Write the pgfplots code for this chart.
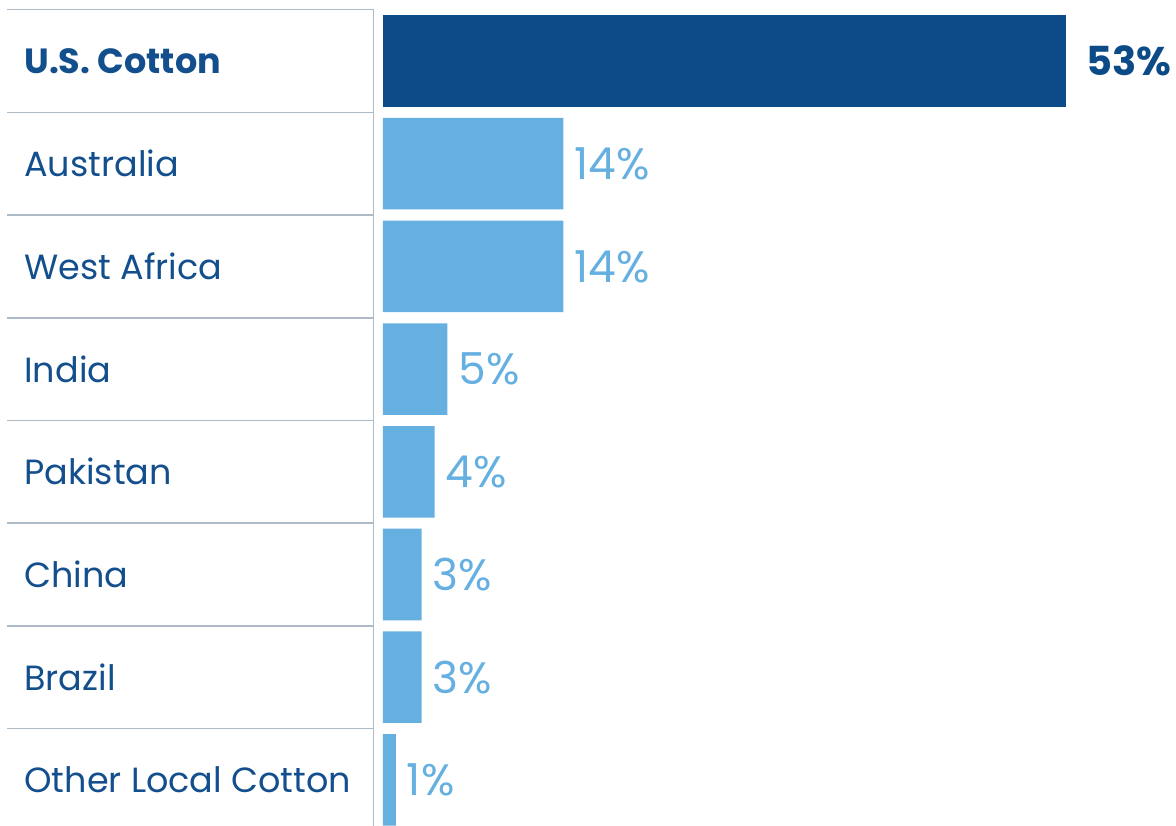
\documentclass[border=0pt]{standalone}
\usepackage{pgfplots}
\pgfplotsset{compat=1.18}
\usepackage{fontspec}
\setmainfont{Poppins}
\definecolor{darkb}{HTML}{0C4B87}
\definecolor{lightb}{HTML}{65B0E1}
\definecolor{txtb}{HTML}{134F8C}
\definecolor{sep}{HTML}{AEBAC6}
\begin{document}
\begin{tikzpicture}
\begin{axis}[
  scale only axis, width=588pt, height=413pt,
  xmin=-29.71, xmax=61.52,
  ymin=-0.594, ymax=7.449, y dir=reverse,
  hide axis,
  xbar, bar width=0.891, bar shift=0pt,
  clip=true,
]
% separators
\foreach \k in {-0.5,0.5,1.5,2.5,3.5,4.5,5.5,6.5} {
  \edef\tmp{\noexpand\draw[sep, line width=0.75pt] (axis cs:-29.17,\k) -- (axis cs:-0.776,\k);}
  \tmp
}
\draw[sep, line width=0.9pt] (axis cs:-0.74,-0.51) -- (axis cs:-0.74,7.449);
\addplot[fill=darkb, draw=none,
  nodes near coords={\textbf{53\%}},
  every node near coord/.append style={anchor=west, xshift=6.5pt, text=darkb, font=\fontsize{20}{24}\selectfont}]
  coordinates {(53,0)};
\addplot[fill=lightb, draw=none,
  point meta=explicit symbolic,
  nodes near coords,
  every node near coord/.append style={anchor=west, xshift=2pt, text=lightb, font=\fontsize{22}{26}\selectfont}]
  coordinates {(14,1)[14\%] (14,2)[14\%] (5,3)[5\%] (4,4)[4\%] (3,5)[3\%] (3,6)[3\%] (1,7)[1\%]};
% category labels
\begin{scope}[every node/.style={anchor=west, text=txtb, inner sep=0pt, font=\fontsize{17.5}{21}\selectfont}]
\node at (axis cs:-27.85,0) {\textbf{U.S. Cotton}};
\node at (axis cs:-27.85,1) {Australia};
\node at (axis cs:-27.85,2) {West Africa};
\node at (axis cs:-27.85,3) {India};
\node at (axis cs:-27.85,4) {Pakistan};
\node at (axis cs:-27.85,5) {China};
\node at (axis cs:-27.85,6) {Brazil};
\node at (axis cs:-27.85,7) {Other Local Cotton};
\end{scope}
\end{axis}
\pgfresetboundingbox
\path (current axis.south west) rectangle (current axis.north east);
\end{tikzpicture}
\end{document}
